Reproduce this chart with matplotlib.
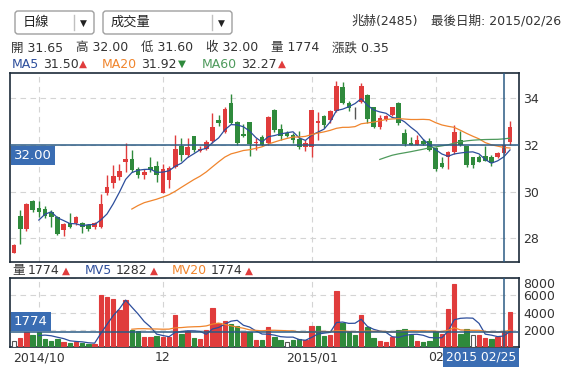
import numpy as np
import pandas as pd
import matplotlib
matplotlib.use("Agg")
import matplotlib.pyplot as plt
from matplotlib.patches import FancyBboxPatch
from matplotlib.transforms import blended_transform_factory

plt.rcParams['font.family'] = ['DejaVu Sans', 'Noto Sans CJK TC']

# daily OHLC, 2014/10/28 .. 2015/02/26
opens = [27.38, 28.95, 28.39, 29.60, 29.31, 29.24, 29.14, 28.92, 28.35, 28.67,
         28.67, 28.67, 28.57, 28.50, 28.50, 29.95, 30.38, 30.64, 31.28, 31.39,
         30.96, 30.71, 31.07, 31.10, 29.95, 30.50, 31.07, 31.96, 31.57, 32.39,
         31.76, 31.82, 32.17, 33.07, 32.57, 33.82, 32.99, 32.46, 32.99, 32.07,
         32.36, 32.07, 33.50, 32.67, 32.53, 32.42, 32.24, 31.90, 31.90, 32.96,
         33.24, 33.07, 33.47, 34.48, 33.82, 33.53, 33.86, 34.15, 33.62, 32.79,
         33.10, 33.29, 33.82, 32.53, 32.10, 32.00, 32.18, 32.18, 31.86, 31.21,
         31.47, 31.71, 32.21, 31.96, 31.47, 31.47, 31.53, 31.47, 31.50, 31.65,
         32.14]
highs = [27.75, 29.21, 29.50, 29.63, 29.61, 29.40, 29.20, 28.95, 28.65, 29.10,
         28.97, 28.70, 28.60, 28.70, 29.88, 30.71, 31.14, 31.20, 32.07, 31.79,
         31.05, 30.95, 31.50, 31.30, 31.20, 31.10, 32.42, 32.30, 32.30, 32.40,
         31.95, 32.20, 33.36, 33.30, 33.62, 34.19, 33.05, 32.90, 33.00, 32.30,
         32.45, 33.25, 33.55, 32.90, 32.60, 32.50, 32.60, 32.20, 33.50, 33.40,
         33.30, 33.50, 34.73, 34.72, 33.90, 33.65, 34.66, 34.20, 33.65, 33.30,
         33.30, 33.65, 33.85, 32.70, 32.35, 32.45, 32.25, 32.30, 31.90, 31.50,
         31.75, 32.85, 32.60, 31.96, 31.50, 31.55, 31.95, 31.55, 31.70, 32.00,
         33.04]
lows = [27.35, 27.75, 28.30, 29.14, 28.92, 28.85, 28.50, 28.15, 28.10, 28.45,
        28.55, 28.23, 28.30, 28.40, 28.45, 29.85, 30.14, 30.50, 30.85, 30.85,
        30.60, 30.55, 30.85, 30.40, 29.95, 30.15, 31.00, 31.30, 31.50, 31.70,
        31.70, 31.80, 32.10, 32.80, 32.50, 32.90, 32.00, 32.35, 31.53, 31.80,
        31.95, 32.00, 32.57, 32.20, 32.35, 32.10, 31.85, 31.75, 31.47, 32.20,
        32.75, 32.95, 33.40, 33.75, 33.45, 33.12, 33.80, 32.95, 32.75, 32.70,
        33.05, 33.25, 32.85, 31.95, 31.98, 31.98, 32.00, 31.75, 30.90, 31.00,
        30.98, 31.60, 31.95, 31.05, 31.00, 31.25, 31.30, 31.10, 31.45, 31.60,
        32.00]
closes = [27.71, 28.39, 29.45, 29.21, 29.14, 28.97, 28.90, 28.17, 28.61, 28.50,
          28.92, 28.50, 28.38, 28.65, 29.47, 30.21, 30.67, 30.88, 31.39, 30.93,
          30.71, 30.85, 30.93, 30.71, 30.98, 31.00, 31.83, 31.57, 31.93, 31.79,
          31.84, 32.14, 32.79, 32.96, 33.53, 32.96, 32.07, 32.39, 32.04, 32.14,
          32.00, 33.21, 32.64, 32.39, 32.39, 32.21, 31.90, 32.10, 33.50, 33.04,
          32.86, 33.47, 34.53, 33.79, 33.57, 33.53, 34.53, 33.10, 32.79, 33.15,
          33.24, 33.62, 32.93, 32.03, 32.00, 32.21, 32.04, 31.79, 30.97, 31.07,
          31.71, 32.54, 32.00, 31.14, 31.14, 31.28, 31.33, 31.21, 31.64, 32.00,
          32.76]
volumes = [700, 1080, 1780, 1400, 1700, 930, 700, 930, 620, 430,
           540, 470, 390, 390, 6050, 5800, 5580, 4300, 5460, 1980,
           1860, 1160, 1160, 1320, 1160, 1160, 3720, 1510, 1860, 1080,
           930, 1980, 4570, 2750, 3020, 2640, 2480, 1710, 1710, 810,
           810, 2360, 1200, 810, 540, 810, 930, 810, 2480, 2480,
           1320, 1400, 6510, 2750, 1710, 1400, 3720, 2360, 1080, 700,
           620, 1200, 1980, 2090, 1400, 700, 620, 700, 1860, 1510,
           4420, 7330, 1510, 2060, 1400, 1400, 1080, 930, 1200, 1774,
           4100]

month_idx = [4, 24, 48, 68]
month_labels = ['2014/10', '12', '2015/01', '02']
price_ticks = [28, 30, 32, 34]
vol_ticks = [2000, 4000, 6000, 8000]
cursor = 79
cursor_date = '2015 02/25'

RED = '#e03c3c'
GREEN = '#2f8a3c'
BLUE = '#2d4e9c'
ORANGE = '#f0852d'
MGREEN = '#4e9a5c'
FRAME = '#1c2b3a'
MARK = '#2b5b84'
TAG = '#3a6db3'
TXT = '#333333'

D = pd.DataFrame({'o': opens, 'h': highs, 'l': lows, 'c': closes, 'v': volumes})
D['ma5'] = D.c.rolling(5).mean()
D['ma20'] = D.c.rolling(20).mean()
D['ma60'] = D.c.rolling(60).mean()
D['mv5'] = D.v.rolling(5).mean()
D['mv20'] = D.v.rolling(20).mean()
idx = np.arange(len(D))

W, H = 574, 375
fig = plt.figure(figsize=(W / 100, H / 100), dpi=100)


def box(l, t, r, b):
    return [l / W, 1 - b / H, (r - l) / W, (b - t) / H]


ax = fig.add_axes(box(10, 73, 519, 262))
axv = fig.add_axes(box(10, 278, 519, 347))

# candles
ccol = np.where(D.c > D.o, RED, np.where(D.c < D.o, GREEN, '#555555'))
ax.vlines(idx, D.l, D.h, colors=ccol, lw=1, zorder=3)
ax.bar(idx, np.maximum((D.c - D.o).abs(), 0.03), bottom=np.minimum(D.o, D.c),
       width=0.74, color=ccol, zorder=3)
ax.plot(idx, D.ma5, color=BLUE, lw=0.9, zorder=4)
ax.plot(idx, D.ma20, color=ORANGE, lw=0.9, zorder=4)
ax.plot(idx, D.ma60, color=MGREEN, lw=0.9, zorder=4)

# volume, coloured by change against previous close
chg = D.c.diff()
vcol = np.where(chg > 0, RED, np.where(chg < 0, GREEN, 'white'))
vedge = np.where(vcol == 'white', '#555555', vcol)
axv.bar(idx, D.v, width=0.72, color=vcol, edgecolor=vedge, linewidth=0.8, zorder=3)
axv.plot(idx, D.mv5, color=BLUE, lw=0.9, zorder=4)
axv.plot(idx, D.mv20, color=ORANGE, lw=0.9, zorder=4)

for a in (ax, axv):
    a.set_xlim(-0.65, 81.45)
    a.set_xticks(month_idx)
    a.yaxis.tick_right()
    a.grid(True, ls=(0, (5, 4)), color='#d4d4d4', lw=0.8, zorder=0)
    a.tick_params(length=0, labelsize=9, labelcolor=TXT, pad=3)
    for s in a.spines.values():
        s.set_color(FRAME)
        s.set_linewidth(1.2)
    a.axvline(cursor, color=MARK, lw=1.1, zorder=5)

ax.set_ylim(26.98, 35.09)
ax.set_yticks(price_ticks)
ax.set_xticklabels([])
axv.set_ylim(0, 7950)
axv.set_yticks(vol_ticks)
axv.set_xticklabels(month_labels)
axv.get_yticklabels()[-1].set_va('top')

ax.axhline(closes[cursor], color=MARK, lw=1.1, zorder=5)
axv.axhline(volumes[cursor], color=MARK, lw=1.1, zorder=5)

tag = dict(boxstyle='square,pad=0.22', fc=TAG, ec='none')
ax.annotate('%.2f' % closes[cursor], xy=(0, closes[cursor]),
            xycoords=blended_transform_factory(ax.transAxes, ax.transData),
            xytext=(4, -4), textcoords='offset pixels', ha='left', va='top',
            color='white', fontsize=9.5, bbox=tag, zorder=10, annotation_clip=False)
axv.annotate('%d' % volumes[cursor], xy=(0, volumes[cursor]),
             xycoords=blended_transform_factory(axv.transAxes, axv.transData),
             xytext=(4, 4), textcoords='offset pixels', ha='left', va='bottom',
             color='white', fontsize=9.5, bbox=tag, zorder=10, annotation_clip=False)
axv.annotate(cursor_date, xy=(1, 0), xycoords='axes fraction',
             xytext=(-3, -4), textcoords='offset pixels', ha='right', va='top',
             color='white', fontsize=8.8, bbox=tag, zorder=10, annotation_clip=False)

# header overlay in pixel coords
hd = fig.add_axes([0, 0, 1, 1])
hd.set_xlim(0, W)
hd.set_ylim(H, 0)
hd.axis('off')

for l, r, div, label, arr in [(15, 94, 73.5, '日線', 83.5), (103, 232, 211.5, '成交量', 221)]:
    hd.add_patch(FancyBboxPatch((l, 11), r - l, 23, boxstyle='round,pad=0,rounding_size=3',
                                fc='white', ec='#a0a0a0', lw=1))
    hd.plot([div, div], [15, 30], color='#c0c0c0', lw=1)
    hd.text(l + 8, 22.5, label, fontsize=9.5, color='#222222', va='center')
    hd.text(arr, 23, '▼', fontsize=6.5, color='#222222', va='center', ha='center')

hd.text(351, 21, '兆赫(2485)', fontsize=9, color=TXT, va='center')
hd.text(431, 21, '最後日期: 2015/02/26', fontsize=9, color=TXT, va='center')

for x, s in [(11, '開 31.65'), (76, '高 32.00'), (141, '低 31.60'),
             (206, '收 32.00'), (271, '量 1774'), (332, '漲跌 0.35')]:
    hd.text(x, 48, s, fontsize=9, color=TXT, va='center')


def legend_item(x, y, name, color, val, arrow, acol, vx, ax_):
    hd.text(x, y, name, fontsize=9, color=color, va='center')
    hd.text(vx, y, val, fontsize=9, color=TXT, va='center')
    hd.text(ax_, y, arrow, fontsize=7.5, color=acol, va='center')


legend_item(12, 64, 'MA5', BLUE, '31.50', '▲', RED, 43, 79)
legend_item(102, 64, 'MA20', ORANGE, '31.92', '▼', GREEN, 141, 178)
legend_item(202, 64, 'MA60', MGREEN, '32.27', '▲', RED, 241, 278)

legend_item(12, 270.5, '量', TXT, '1774', '▲', RED, 28, 62)
legend_item(85, 270.5, 'MV5', BLUE, '1282', '▲', RED, 116, 150)
legend_item(172, 270.5, 'MV20', ORANGE, '1774', '▲', RED, 211, 245)

fig.savefig('out.png', dpi=100)
